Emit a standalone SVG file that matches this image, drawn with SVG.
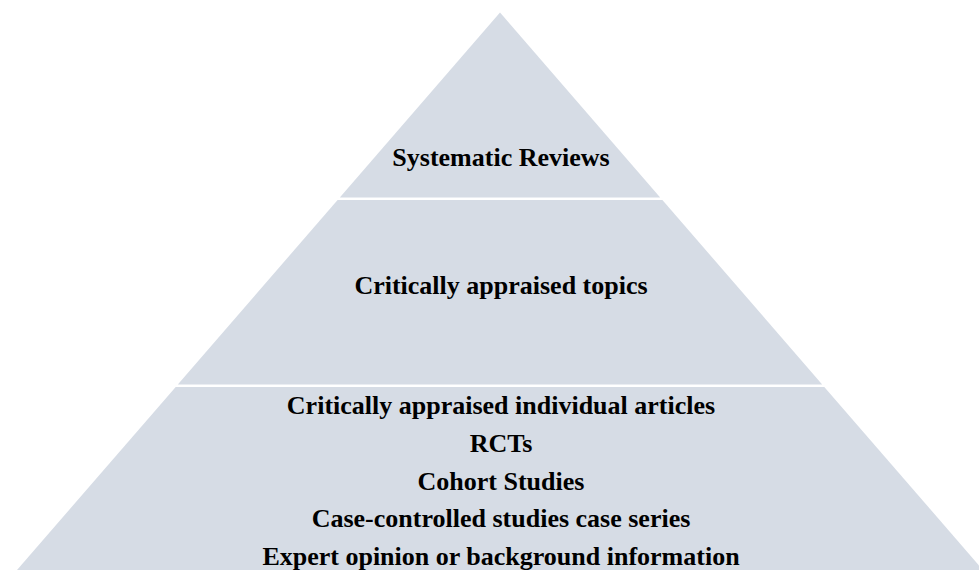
<svg xmlns="http://www.w3.org/2000/svg" width="979" height="570" viewBox="0 0 979 570">
  <style>
    .tier { fill: #D6DCE5; stroke: none; }
    .label { font-family: "Liberation Serif", "Times New Roman", serif; font-weight: bold; font-size: 26px; fill: #000000; text-anchor: middle; }
  </style>
  <rect width="979" height="570" fill="#FFFFFF"/>
  <!-- Top tier -->
  <g id="tier-top">
    <polygon class="tier" points="500,12.5 660.2,197.5 339.8,197.5"/>
    <text class="label" x="501" y="166">Systematic Reviews</text>
  </g>
  <!-- Middle tier -->
  <g id="tier-middle">
    <polygon class="tier" points="337.6,200 662.4,200 822.2,384.5 177.8,384.5"/>
    <text class="label" x="501" y="294">Critically appraised topics</text>
  </g>
  <!-- Base tier -->
  <g id="tier-base">
    <polygon class="tier" points="175.7,387 824.3,387 983,570 17,570"/>
    <text class="label" x="501" y="414">Critically appraised individual articles</text>
    <text class="label" x="501" y="451.8">RCTs</text>
    <text class="label" x="501" y="489.5">Cohort Studies</text>
    <text class="label" x="501" y="527.3">Case-controlled studies case series</text>
    <text class="label" x="501" y="565">Expert opinion or background information</text>
  </g>
  <g id="connectors"/>
</svg>
